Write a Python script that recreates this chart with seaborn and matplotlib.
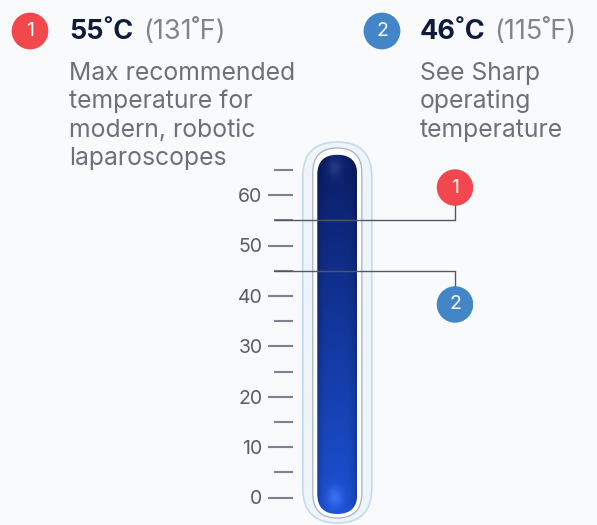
import numpy as np
import pandas as pd
import matplotlib.pyplot as plt
import seaborn as sns
from matplotlib.patches import FancyBboxPatch
from matplotlib.colors import to_rgb

sns.set_theme(style='white')
plt.rcParams['font.family'] = ['Inter', 'DejaVu Sans']

# ---- data ----
scale_major = [0, 10, 20, 30, 40, 50, 60]
scale_minor = [5, 15, 25, 35, 45, 55, 65]
marker_ids = ['1', '2']
marker_temp = [55, 45]            # where the leader lines hit the scale
marker_c = ['55˚C', '46˚C']
marker_f = ['(131˚F)', '(115˚F)']
marker_desc = [['Max recommended', 'temperature for', 'modern, robotic', 'laparoscopes'],
               ['See Sharp', 'operating', 'temperature']]
marker_colors = ['#f2474d', '#4286c8']
mercury_top = 68

W, H = 597, 525
PX = 5.04            # pixels per degree
Y0 = 497.5           # pixel row of 0 degrees
BG = '#f9fafc'

fig = plt.figure(figsize=(W / 100, H / 100), dpi=100, facecolor=BG)
ax_left, ax_right = 293, 473
ax = fig.add_axes([ax_left / W, 0, (ax_right - ax_left) / W, 1])
ax.set_facecolor('none')


def ux(px):
    return (px - ax_left) / PX


def uy(py):
    return (Y0 - py) / PX


for s in ax.spines.values():
    s.set_visible(False)

# ---- thermometer ----
cx = 337.3


def tube(half_w, top_px, bot_px, **kw):
    x0, x1 = ux(cx - half_w), ux(cx + half_w)
    y0, y1 = uy(bot_px), uy(top_px)
    r = (x1 - x0) / 2
    p = FancyBboxPatch((x0 + r, y0 + r), (x1 - x0) - 2 * r, (y1 - y0) - 2 * r,
                       boxstyle=f'round,pad={r}', **kw)
    ax.add_patch(p)
    return p


tube(34.5, 142, 523, facecolor='#edf4fb', edgecolor='#c6daee', lw=1.2, zorder=2)
tube(24.5, 148, 518, facecolor='white', edgecolor='#aab1bb', lw=0.9, zorder=3)
merc_top_px = Y0 - mercury_top * PX
merc = tube(20, merc_top_px, 514, facecolor='none', edgecolor='none', zorder=4)

# gradient fill for the mercury column
ny, nx = 300, 80
top_c = np.array(to_rgb('#0a1d66'))
bot_c = np.array(to_rgb('#1c52d6'))
t = np.linspace(0, 1, ny)[:, None, None]
img = top_c * (1 - t) + bot_c * t
xs = np.linspace(-1, 1, nx)[None, :, None]
img = img * (1 - 0.22 * xs ** 4)
yy = np.linspace(0, 1, ny)[:, None]
xx = np.linspace(-1, 1, nx)[None, :]
hl = np.exp(-((xx + 0.1) ** 2 / 0.12 + (yy - 0.035) ** 2 / 0.0008)) * 0.1
hl += np.exp(-((xx + 0.1) ** 2 / 0.15 + (yy - 0.955) ** 2 / 0.0008)) * 0.12
img = np.clip(img + hl[:, :, None], 0, 1)
im = ax.imshow(img, extent=[ux(cx - 20), ux(cx + 20), uy(514), uy(merc_top_px)],
               aspect='auto', zorder=4, interpolation='bilinear')
im.set_clip_path(merc)

# ---- leader lines and markers ----
lead_x = 455
circle_offset = [6.5, -6.7]
for temp, off in zip(marker_temp, circle_offset):
    ax.plot([ux(274), ux(lead_x), ux(lead_x)], [temp, temp, temp + off * 0.55],
            color='#4d5868', lw=1.0, clip_on=False, zorder=5)

circles = pd.DataFrame({'x': [ux(lead_x)] * 2,
                        'y': [t_ + o for t_, o in zip(marker_temp, circle_offset)],
                        'id': marker_ids})
sns.scatterplot(data=circles, x='x', y='y', hue='id', palette=marker_colors,
                s=690, edgecolor='none', legend=False, ax=ax, zorder=6)
for _, r in circles.iterrows():
    ax.text(r['x'], r['y'], r['id'], color='white', fontsize=14,
            ha='center', va='center', zorder=7)

ax.set_xlim(0, (ax_right - ax_left) / PX)
ax.set_ylim((Y0 - H) / PX, Y0 / PX)
ax.set_xlabel('')
ax.set_ylabel('')
ax.set_xticks([])
ax.set_yticks(scale_major)
ax.set_yticklabels([str(v) for v in scale_major])
ax.set_yticks(scale_minor, minor=True)
ax.tick_params(axis='y', which='major', left=True, direction='out', length=18,
               width=1.5, color='#7b8391', pad=4, labelsize=14, labelcolor='#555d69')
ax.tick_params(axis='y', which='minor', left=True, direction='out', length=13.5,
               width=1.5, color='#7b8391')


# ---- header ----
def ftext(px, py, s, **kw):
    fig.text(px / W, 1 - py / H, s, **kw)


head_x = [69, 420]
circ_x = [30, 382]
f_x = [143, 494]
for i in range(2):
    hx = fig.add_axes([(circ_x[i] - 20) / W, 1 - 51 / H, 40 / W, 40 / H])
    hx.set_axis_off()
    hx.set_xlim(-1, 1)
    hx.set_ylim(-1, 1)
    hx.scatter([0], [0], s=700, color=marker_colors[i], edgecolor='none')
    hx.text(0, 0, marker_ids[i], color='white', fontsize=14, ha='center', va='center')
    ftext(head_x[i], 39, marker_c[i], fontsize=19.5, fontweight='bold',
          color='#0f1b3b', va='baseline')
    ftext(f_x[i], 39, marker_f[i], fontsize=19.5, color='#80858d', va='baseline')
    for j, line in enumerate(marker_desc[i]):
        ftext(head_x[i], 80 + j * 28.4, line, fontsize=17.8, color='#6c7179',
              va='baseline')

fig.savefig('out.png', dpi=100, facecolor=BG)
